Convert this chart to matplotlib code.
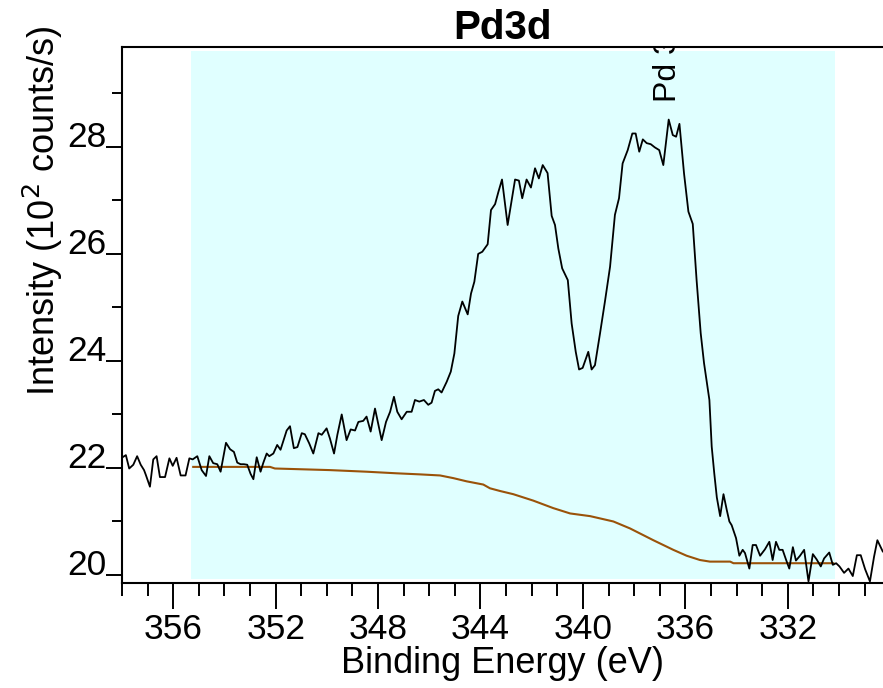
import matplotlib
matplotlib.use("Agg")
import matplotlib.pyplot as plt
from matplotlib.ticker import MultipleLocator

# Pd3d spectrum (binding energy in eV, intensity in 10^2 counts/s)
energy = [
    357.98, 357.85, 357.72, 357.56, 357.41, 357.27, 357.14, 357.07, 356.91, 356.78,
    356.65, 356.52, 356.32, 356.15, 356.02, 355.87, 355.71, 355.52, 355.37, 355.24,
    355.06, 354.89, 354.72, 354.59, 354.44, 354.28, 354.15, 353.94, 353.78, 353.63,
    353.50, 353.37, 353.24, 353.11, 352.98, 352.87, 352.74, 352.59, 352.48, 352.35,
    352.25, 352.09, 351.94, 351.81, 351.57, 351.44, 351.29, 351.15, 350.98, 350.86,
    350.69, 350.53, 350.33, 350.20, 350.01, 349.88, 349.72, 349.59, 349.42, 349.23,
    349.07, 348.90, 348.77, 348.58, 348.45, 348.29, 348.12, 347.86, 347.69, 347.53,
    347.38, 347.25, 347.08, 346.88, 346.69, 346.56, 346.39, 346.21, 346.04, 345.91,
    345.78, 345.65, 345.52, 345.32, 345.16, 345.02, 344.87, 344.71, 344.50, 344.37,
    344.24, 344.09, 343.93, 343.72, 343.59, 343.43, 343.30, 343.16, 342.94, 342.78,
    342.65, 342.50, 342.37, 342.20, 342.03, 341.87, 341.72, 341.57, 341.38, 341.22,
    341.09, 340.96, 340.81, 340.59, 340.44, 340.28, 340.15, 340.01, 339.79, 339.66,
    339.53, 339.33, 339.14, 338.94, 338.75, 338.59, 338.45, 338.25, 338.07, 337.94,
    337.80, 337.66, 337.51, 337.35, 337.19, 337.02, 336.86, 336.65, 336.49, 336.36,
    336.23, 336.05, 335.88, 335.71, 335.56, 335.40, 335.27, 335.06, 334.97, 334.87,
    334.77, 334.64, 334.51, 334.38, 334.28, 334.19, 334.02, 333.89, 333.76, 333.67,
    333.50, 333.37, 333.24, 333.08, 332.89, 332.72, 332.59, 332.46, 332.33, 332.20,
    332.07, 331.94, 331.80, 331.68, 331.52, 331.36, 331.19, 331.02, 330.87, 330.71,
    330.58, 330.38, 330.24, 330.11, 329.98, 329.80, 329.63, 329.46, 329.30, 329.15,
    328.98, 328.79, 328.63, 328.50, 328.29,
]
intensity = [
    22.20, 22.24, 21.99, 22.06, 22.22, 22.06, 21.96, 21.87, 21.65, 22.16,
    22.22, 21.83, 21.83, 22.18, 22.04, 22.19, 21.86, 21.86, 22.18, 22.16,
    22.22, 21.96, 21.85, 22.22, 22.09, 22.07, 21.93, 22.47, 22.35, 22.30,
    22.10, 22.07, 22.07, 22.06, 21.89, 21.79, 22.20, 21.93, 22.10, 22.27,
    22.22, 22.27, 22.43, 22.34, 22.70, 22.78, 22.37, 22.39, 22.65, 22.63,
    22.46, 22.27, 22.65, 22.62, 22.74, 22.55, 22.27, 22.62, 23.00, 22.52,
    22.72, 22.70, 22.86, 22.88, 22.96, 22.68, 23.11, 22.52, 22.86, 23.05,
    23.33, 23.05, 22.91, 23.05, 23.05, 23.27, 23.24, 23.27, 23.18, 23.22,
    23.44, 23.47, 23.41, 23.61, 23.80, 24.14, 24.84, 25.11, 24.87, 25.26,
    25.48, 26.00, 26.04, 26.18, 26.82, 26.93, 27.16, 27.39, 26.54, 27.01,
    27.39, 27.37, 27.04, 27.39, 27.24, 27.60, 27.41, 27.66, 27.51, 26.71,
    26.54, 26.10, 25.73, 25.51, 24.70, 24.17, 23.84, 23.87, 24.17, 23.84,
    23.92, 24.52, 25.11, 25.76, 26.73, 27.04, 27.69, 27.94, 28.25, 28.25,
    27.91, 28.14, 28.07, 28.05, 27.99, 27.94, 27.66, 28.51, 28.22, 28.19,
    28.43, 27.50, 26.79, 26.56, 25.51, 24.52, 23.96, 23.27, 22.40, 21.90,
    21.45, 21.10, 21.51, 21.21, 21.00, 20.93, 20.69, 20.36, 20.47, 20.41,
    20.12, 20.56, 20.56, 20.36, 20.48, 20.62, 20.28, 20.62, 20.47, 20.47,
    20.29, 20.12, 20.52, 20.27, 20.36, 20.47, 19.88, 20.39, 20.29, 20.16,
    20.31, 20.42, 20.19, 20.22, 20.16, 20.04, 20.12, 19.98, 20.37, 20.37,
    20.11, 19.88, 20.34, 20.65, 20.44,
]

# Shirley background
bg_energy = [355.22, 352.22, 352.03, 349.88, 348.45, 347.27, 346.36, 345.58, 345.06, 344.54,
             343.89, 343.63, 343.24, 342.72, 341.94, 341.16, 340.50, 339.72, 338.81, 338.16,
             337.25, 336.47, 335.95, 335.43, 335.04, 334.25, 334.12, 330.22]
bg_intensity = [22.02, 22.02, 21.99, 21.96, 21.93, 21.90, 21.88, 21.86, 21.81, 21.75,
                21.69, 21.62, 21.57, 21.51, 21.39, 21.25, 21.15, 21.10, 21.00, 20.87,
                20.65, 20.47, 20.36, 20.28, 20.25, 20.25, 20.22, 20.22]

region = (355.31, 330.15)
peak_label = "Pd 3d"
peak_pos = (336.68, 28.84)

plt.rcParams["font.family"] = ["Liberation Sans", "DejaVu Sans"]

fig = plt.figure(figsize=(8.83, 6.88), dpi=100)
ax = fig.add_axes([0.1382, 0.1522, 0.8618, 0.7790])

ax.axvspan(region[0], region[1], ymin=0.0075, ymax=0.9937, color="#E0FFFF", lw=0, zorder=0)
ax.plot(bg_energy, bg_intensity, color="#9A5209", lw=1.5, zorder=2)
ax.plot(energy, intensity, color="black", lw=1.3, zorder=3)
ax.text(peak_pos[0], peak_pos[1], peak_label, rotation=90, ha="center", va="bottom",
        fontsize=23, clip_on=True, zorder=4)

ax.set_xlim(358, 328.28)
ax.set_ylim(19.845, 29.86)

ax.spines["right"].set_visible(False)
for s in ("left", "bottom", "top"):
    ax.spines[s].set_linewidth(1.5)

ax.xaxis.set_major_locator(MultipleLocator(4))
ax.xaxis.set_minor_locator(MultipleLocator(1))
ax.yaxis.set_major_locator(MultipleLocator(2))
ax.yaxis.set_minor_locator(MultipleLocator(1))
ax.tick_params(axis="x", which="major", direction="out", length=18.5, width=1.4, labelsize=25.5, pad=3, top=False)
ax.tick_params(axis="x", which="minor", direction="out", length=9.5, width=1.4, top=False)
ax.tick_params(axis="y", which="major", direction="out", length=11.5, width=1.4, labelsize=25.5, pad=0, right=False)
ax.tick_params(axis="y", which="minor", direction="out", length=7.2, width=1.4, right=False)
for lab in ax.get_yticklabels():
    lab.set_verticalalignment("baseline")

ax.set_title("Pd3d", fontsize=29, fontweight="bold", pad=5)
ax.set_xlabel("Binding Energy (eV)", fontsize=26, labelpad=0)
ax.set_ylabel("Intensity (10$^2$ counts/s)", fontsize=26)
ax.yaxis.set_label_coords(-0.075, 0.695)

fig.savefig("out.png", dpi=100)
